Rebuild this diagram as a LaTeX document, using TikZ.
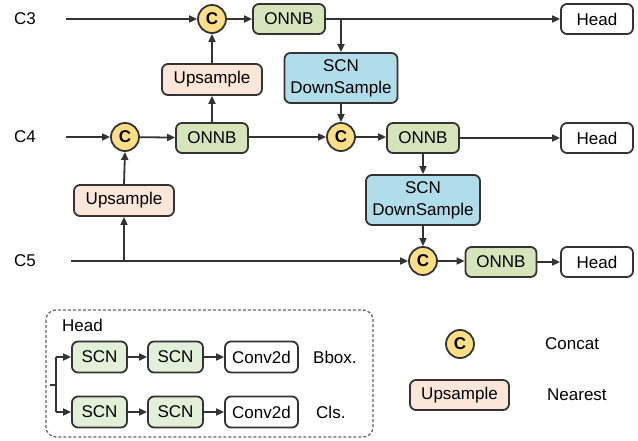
\documentclass[tikz,border=0pt]{standalone}
\usepackage{fontspec}
\setmainfont{Liberation Sans}
\usetikzlibrary{arrows.meta,positioning}
\definecolor{onnbc}{HTML}{D6E4BC}
\definecolor{scnc}{HTML}{B1DDEA}
\definecolor{upc}{HTML}{FCE6DA}
\definecolor{hscnc}{HTML}{E2EFD9}
\definecolor{catc}{HTML}{FFDE86}
\definecolor{linec}{HTML}{333333}
\tikzset{
  base/.style={draw=linec, line width=1.8pt, rounded corners=6pt, inner sep=0pt, align=center,
    font=\fontsize{17}{22}\selectfont},
  onnb/.style={base, fill=onnbc, minimum width=72pt, minimum height=30pt},
  headbox/.style={base, fill=white, minimum width=72pt, minimum height=30pt},
  upbox/.style={base, fill=upc, minimum width=100pt, minimum height=31pt},
  scnbox/.style={base, fill=scnc, minimum width=113pt, minimum height=50pt},
  hscn/.style={base, fill=hscnc, minimum width=55pt, minimum height=31pt},
  conv/.style={base, fill=white, minimum width=73pt, minimum height=31pt},
  cat/.style={circle, draw=linec, line width=1.8pt, fill=catc, minimum size=28pt, inner sep=0pt,
    font=\fontsize{17}{20}\selectfont\bfseries},
  lab/.style={font=\fontsize{17}{20}\selectfont, inner sep=0pt},
  arr/.style={draw=linec, line width=1.8pt, -{Triangle[length=8pt,width=7pt]}},
  ln/.style={draw=linec, line width=1.8pt},
}
\begin{document}
\begin{tikzpicture}[x=1pt,y=-1pt]
\useasboundingbox (0,0) rectangle (638,441);
% row C3
\node[lab] (c3lab) at (25,19) {C3};
\coordinate (c3in) at (66,19);
\node[cat] (cc3) at (212,19) {C};
\node[onnb] (onnb3) at (289,19) {ONNB};
\node[headbox] (head3) at (597,19) {Head};
\node[upbox] (up3) at (212,79.5) {Upsample};
\node[scnbox] (scn3) at (341,78) {SCN\\DownSample};
\coordinate (br3) at (341,19);
% row C4
\node[lab] (c4lab) at (25,137) {C4};
\coordinate (c4in) at (66,137);
\node[cat] (cc4a) at (125,137) {C};
\node[onnb] (onnb4a) at (212,138) {ONNB};
\node[cat] (cc4b) at (341,137) {C};
\node[onnb] (onnb4b) at (423,138) {ONNB};
\node[headbox] (head4) at (597,138) {Head};
\node[scnbox, minimum width=114pt] (scn4) at (423,200) {SCN\\DownSample};
% row C5
\node[lab] (c5lab) at (25,261) {C5};
\coordinate (c5in) at (71,261);
\coordinate (br5) at (124,261);
\node[upbox] (up5) at (124,200.5) {Upsample};
\node[cat] (cc5) at (423,261) {C};
\node[onnb, minimum width=71pt] (onnb5) at (501,262) {ONNB};
\node[headbox] (head5) at (597,262) {Head};
% connectors
\draw[arr] (c3in) -- (cc3);
\draw[arr] (cc3) -- (onnb3);
\draw[arr] (onnb3.east |- br3) -- (head3.west |- br3);
\draw[arr] (br3) -- (scn3.north);
\draw[arr] (scn3.south) -- (cc4b);
\draw[arr] (onnb4a.north) -- (up3.south);
\draw[arr] (up3.north) -- (cc3.south);
\draw[arr] (c4in) -- (cc4a);
\draw[arr] (cc4a) -- (onnb4a);
\draw[arr] (onnb4a.east |- cc4b) -- (cc4b);
\draw[arr] (cc4b) -- (onnb4b.west |- cc4b);
\draw[arr] (onnb4b) -- (head4);
\draw[arr] (onnb4b.south) -- (scn4.north);
\draw[arr] (scn4.south) -- (cc5.north);
\draw[arr] (c5in) -- (cc5);
\draw[arr] (br5) -- (up5.south);
\draw[arr] (up5.north) -- (cc4a.south);
\draw[arr] (cc5) -- (onnb5.west |- cc5);
\draw[arr] (onnb5) -- (head5);
% head legend
\draw[draw=black!60, line width=1.3pt, dash pattern=on 3pt off 2pt, rounded corners=10pt] (46,310) rectangle (373,437);
\node[lab, anchor=west] (hlab) at (62,325) {Head};
\node[hscn] (s1a) at (99.5,357) {SCN};
\node[hscn] (s1b) at (175.5,357) {SCN};
\node[conv] (cv1) at (261.5,357) {Conv2d};
\node[lab, anchor=west] (bbox) at (313,357) {Bbox.};
\node[hscn] (s2a) at (99.5,412) {SCN};
\node[hscn] (s2b) at (175.5,412) {SCN};
\node[conv] (cv2) at (261.5,412) {Conv2d};
\node[lab, anchor=west] (cls) at (316,412) {Cls.};
\coordinate (hin) at (50,385);
\coordinate (hsp) at (56,385);
\coordinate (ht) at (56,357);
\coordinate (hb) at (56,412);
\draw[ln] (hin) -- (hsp);
\draw[ln] (ht) -- (hb);
\draw[arr] (ht) -- (s1a);
\draw[arr] (hb) -- (s2a);
\draw[arr] (s1a) -- (s1b);
\draw[arr] (s1b) -- (cv1);
\draw[arr] (s2a) -- (s2b);
\draw[arr] (s2b) -- (cv2);
% legend
\node[cat] (lc) at (460,344) {C};
\node[lab, anchor=west] (lconcat) at (545,344) {Concat};
\node[upbox, minimum width=99pt, minimum height=30pt] (lup) at (459.5,395) {Upsample};
\node[lab, anchor=west] (lnear) at (547,395) {Nearest};
\end{tikzpicture}
\end{document}
